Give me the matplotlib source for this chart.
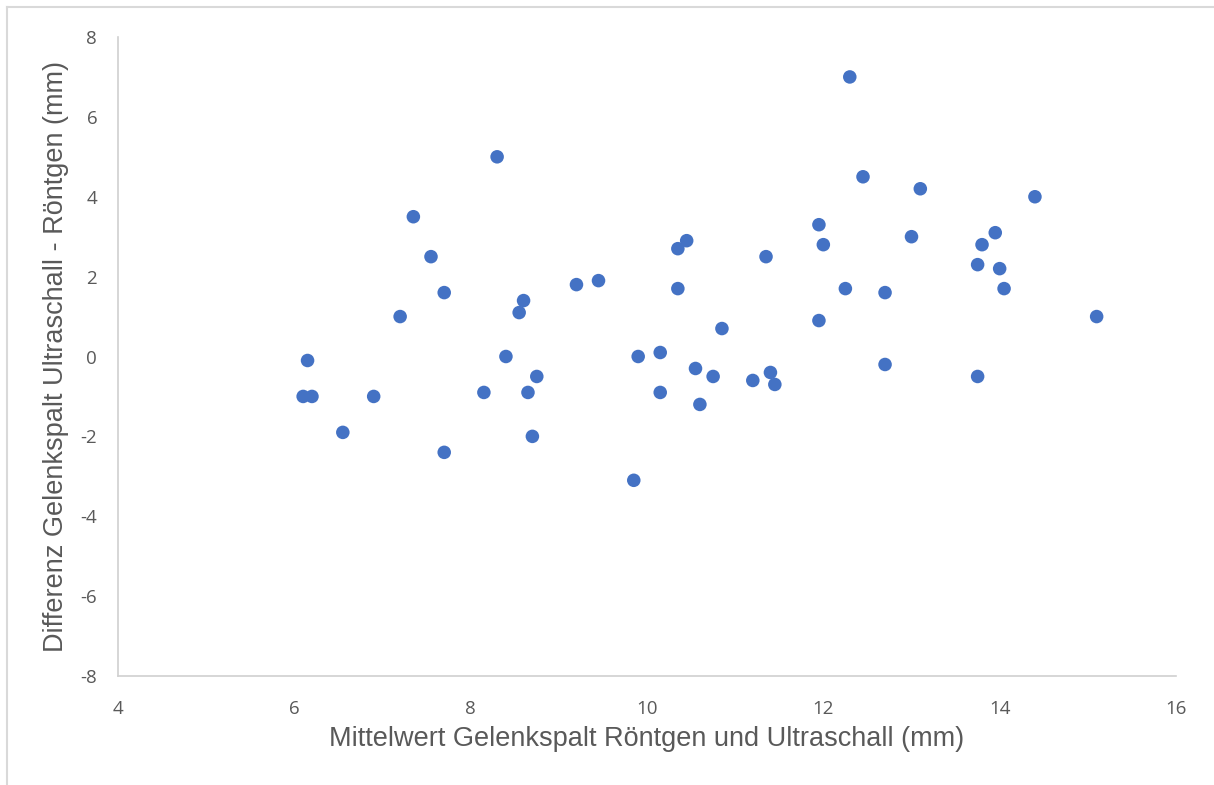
import matplotlib.pyplot as plt
from matplotlib.lines import Line2D

plt.rcParams['axes.unicode_minus'] = False

# Bland-Altman style data: mean of both methods vs. difference (mm)
mittelwert = [6.1, 6.15, 6.2, 6.55, 6.9, 7.2, 7.35, 7.55, 7.7, 7.7,
              8.15, 8.3, 8.4, 8.55, 8.6, 8.65, 8.7, 8.75, 9.2, 9.45,
              9.85, 9.9, 10.15, 10.15,
              12.3, 12.45, 13.1, 14.4, 11.95, 12.0, 10.45, 10.35, 11.35, 13.0,
              13.95, 13.8, 13.75, 14.0, 14.05, 10.35, 12.25, 12.7, 11.95, 15.1,
              10.85, 10.55, 10.75, 10.6, 11.2, 11.4, 11.45, 12.7, 13.75]
differenz = [-1.0, -0.1, -1.0, -1.9, -1.0, 1.0, 3.5, 2.5, 1.6, -2.4,
             -0.9, 5.0, 0.0, 1.1, 1.4, -0.9, -2.0, -0.5, 1.8, 1.9,
             -3.1, 0.0, 0.1, -0.9,
             7.0, 4.5, 4.2, 4.0, 3.3, 2.8, 2.9, 2.7, 2.5, 3.0,
             3.1, 2.8, 2.3, 2.2, 1.7, 1.7, 1.7, 1.6, 0.9, 1.0,
             0.7, -0.3, -0.5, -1.2, -0.6, -0.4, -0.7, -0.2, -0.5]

x_ticks = [4, 6, 8, 10, 12, 14, 16]
y_ticks = [-8, -6, -4, -2, 0, 2, 4, 6, 8]

W, H = 1214, 785
fig = plt.figure(figsize=(W / 100, H / 100), dpi=100)
ax = fig.add_axes([118 / W, 1 - 676 / H, (1176 - 118) / W, (676 - 37) / H])

ax.scatter(mittelwert, differenz, s=95, color='#4472C4', edgecolors='none', zorder=3)

ax.set_xlim(4, 16)
ax.set_ylim(-8, 8)
ax.set_xticks(x_ticks)
ax.set_yticks(y_ticks)
ax.tick_params(length=0, labelsize=13.5, labelcolor='#595959')
ax.tick_params(axis='x', pad=17)
ax.tick_params(axis='y', pad=15)
for lbl in ax.get_xticklabels() + ax.get_yticklabels():
    lbl.set_family('Open Sans')

for side in ['top', 'right']:
    ax.spines[side].set_visible(False)
for side in ['left', 'bottom']:
    ax.spines[side].set_color('#D0D0D0')
    ax.spines[side].set_linewidth(1.2)

ax.set_xlabel('Mittelwert Gelenkspalt Röntgen und Ultraschall (mm)',
              fontsize=19.5, color='#595959', family='Liberation Sans', labelpad=6)
ax.set_ylabel('Differenz Gelenkspalt Ultraschall - Röntgen (mm)',
              fontsize=19.5, color='#595959', family='Liberation Sans', labelpad=8)

# chart frame (partly cut off at the right and bottom)
fig.add_artist(Line2D([7 / W, 1], [1 - 7 / H, 1 - 7 / H], color='#D9D9D9', lw=1.5,
                      transform=fig.transFigure))
fig.add_artist(Line2D([7 / W, 7 / W], [0, 1 - 7 / H], color='#D9D9D9', lw=1.5,
                      transform=fig.transFigure))

fig.savefig('out.png', dpi=100)
